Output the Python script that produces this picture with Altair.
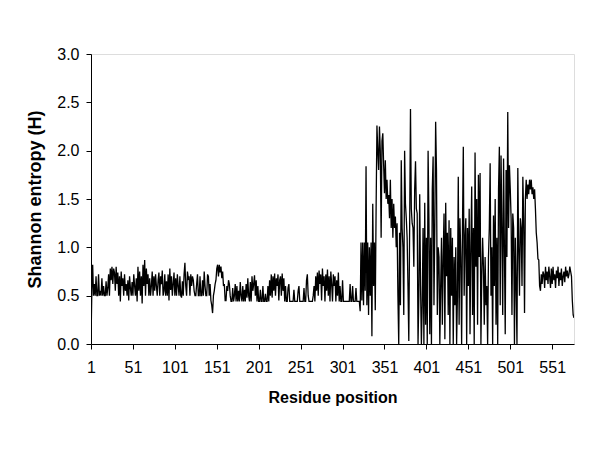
import altair as alt
import pandas as pd

# Shannon entropy per residue (residues 1..577)
seg_001_050 = [0.02, 0.55, 0.82, 0.5, 0.62, 0.5, 0.7, 0.5, 0.5, 0.72,
               0.5, 0.55, 0.5, 0.68, 0.5, 0.6, 0.5, 0.5, 0.65, 0.5,
               0.58, 0.72, 0.5, 0.78, 0.66, 0.8, 0.62, 0.78, 0.74, 0.55,
               0.8, 0.62, 0.74, 0.5, 0.7, 0.44, 0.75, 0.6, 0.68, 0.5,
               0.72, 0.55, 0.62, 0.5, 0.66, 0.45, 0.7, 0.58, 0.5, 0.64]
seg_051_100 = [0.5, 0.72, 0.6, 0.5, 0.68, 0.44, 0.8, 0.55, 0.75, 0.5,
               0.7, 0.42, 0.82, 0.6, 0.87, 0.5, 0.78, 0.62, 0.72, 0.5,
               0.68, 0.5, 0.6, 0.75, 0.5, 0.7, 0.55, 0.72, 0.6, 0.5,
               0.66, 0.74, 0.5, 0.7, 0.62, 0.76, 0.5, 0.55, 0.72, 0.5,
               0.65, 0.5, 0.72, 0.45, 0.78, 0.56, 0.7, 0.5, 0.62, 0.74]
seg_101_150 = [0.5, 0.68, 0.5, 0.72, 0.6, 0.5, 0.7, 0.5, 0.48, 0.65,
               0.5, 0.72, 0.84, 0.6, 0.5, 0.75, 0.68, 0.7, 0.5, 0.72,
               0.6, 0.7, 0.66, 0.55, 0.5, 0.5, 0.62, 0.72, 0.5, 0.5,
               0.7, 0.5, 0.5, 0.66, 0.5, 0.75, 0.6, 0.5, 0.5, 0.72,
               0.7, 0.5, 0.62, 0.45, 0.4, 0.32, 0.5, 0.55, 0.62, 0.66]
seg_151_200 = [0.78, 0.82, 0.7, 0.82, 0.74, 0.8, 0.68, 0.75, 0.6, 0.62,
               0.45, 0.45, 0.6, 0.55, 0.66, 0.62, 0.5, 0.44, 0.44, 0.58,
               0.44, 0.5, 0.62, 0.44, 0.6, 0.44, 0.55, 0.44, 0.64, 0.5,
               0.44, 0.6, 0.44, 0.56, 0.44, 0.62, 0.48, 0.68, 0.5, 0.44,
               0.64, 0.44, 0.7, 0.55, 0.62, 0.71, 0.5, 0.66, 0.44, 0.6]
seg_201_250 = [0.44, 0.44, 0.56, 0.44, 0.44, 0.6, 0.44, 0.44, 0.52, 0.44,
               0.44, 0.6, 0.44, 0.66, 0.5, 0.72, 0.48, 0.7, 0.55, 0.73,
               0.5, 0.68, 0.6, 0.72, 0.45, 0.66, 0.7, 0.5, 0.73, 0.55,
               0.68, 0.44, 0.6, 0.44, 0.44, 0.58, 0.62, 0.44, 0.44, 0.44,
               0.44, 0.44, 0.56, 0.44, 0.44, 0.44, 0.44, 0.55, 0.6, 0.44]
seg_251_300 = [0.44, 0.44, 0.44, 0.44, 0.58, 0.44, 0.44, 0.66, 0.72, 0.5,
               0.44, 0.44, 0.44, 0.44, 0.44, 0.5, 0.6, 0.44, 0.7, 0.55,
               0.74, 0.5, 0.76, 0.62, 0.72, 0.45, 0.78, 0.6, 0.7, 0.44,
               0.72, 0.55, 0.77, 0.5, 0.7, 0.44, 0.75, 0.62, 0.44, 0.72,
               0.6, 0.7, 0.44, 0.66, 0.5, 0.74, 0.44, 0.6, 0.44, 0.44]
seg_301_350 = [0.66, 0.44, 0.44, 0.44, 0.44, 0.44, 0.44, 0.44, 0.44, 0.62,
               0.44, 0.44, 0.6, 0.44, 0.44, 0.44, 0.58, 0.44, 0.44, 0.44,
               0.44, 0.34, 1.05, 0.45, 1.05, 0.4, 1.05, 0.55, 1.84, 0.4,
               1.05, 0.3, 1.0, 0.5, 1.05, 0.08, 1.45, 0.6, 1.05, 0.35,
               1.4, 2.26, 2.0, 1.8, 2.25, 2.0, 1.1, 2.1, 2.18, 1.85]
seg_351_400 = [1.56, 1.9, 1.5, 1.7, 1.45, 1.54, 1.3, 1.7, 1.2, 1.5,
               1.1, 1.45, 1.2, 1.32, 1.0, 1.25, 0.5, 0.0, 1.15, 0.4,
               1.9, 1.2, 1.0, 0.3, 2.0, 1.45, 1.3, 1.1, 0.6, 0.03,
               1.2, 2.43, 1.4, 1.25, 1.2, 0.8, 1.6, 1.89, 1.4, 1.35,
               0.0, 0.5, 1.55, 0.6, 0.0, 0.4, 1.2, 0.0, 1.46, 0.2]
seg_401_450 = [1.1, 0.0, 2.0, 1.3, 0.1, 1.1, 0.0, 1.6, 1.94, 0.4,
               1.2, 2.3, 1.8, 0.3, 1.0, 0.9, 0.0, 0.6, 1.1, 0.2,
               0.9, 1.35, 0.05, 1.46, 0.7, 1.15, 0.3, 1.28, 0.0, 1.2,
               0.5, 1.1, 0.0, 0.9, 0.4, 1.0, 0.0, 0.5, 1.73, 0.2,
               1.3, 0.9, 0.0, 1.2, 2.04, 0.5, 1.1, 1.3, 0.0, 1.2]
seg_451_500 = [0.6, 1.4, 0.1, 1.0, 1.63, 0.3, 1.2, 0.0, 1.98, 0.8,
               1.5, 0.2, 1.75, 0.9, 1.77, 0.0, 0.7, 1.1, 0.8, 0.2,
               0.9, 0.4, 0.6, 0.0, 0.9, 1.2, 1.87, 0.5, 1.0, 0.0,
               1.33, 0.6, 1.5, 0.2, 1.1, 0.0, 1.6, 2.04, 0.4, 1.95,
               1.2, 0.3, 1.92, 1.0, 0.1, 1.8, 0.9, 2.4, 1.2, 1.85]
seg_501_550 = [1.6, 1.3, 0.3, 1.35, 1.2, 0.0, 1.1, 0.6, 0.0, 1.82,
               1.0, 0.5, 1.3, 1.2, 0.6, 1.73, 1.3, 0.32, 1.5, 1.7,
               1.5, 1.65, 1.55, 1.7, 1.6, 1.7, 1.55, 1.62, 1.5, 1.6,
               1.4, 1.15, 1.05, 0.88, 0.87, 0.6, 0.55, 0.72, 0.62, 0.75,
               0.72, 0.58, 0.8, 0.66, 0.75, 0.62, 0.8, 0.7, 0.58, 0.78]
seg_551_577 = [0.62, 0.8, 0.66, 0.72, 0.58, 0.76, 0.68, 0.8, 0.6, 0.74,
               0.66, 0.78, 0.6, 0.7, 0.75, 0.64, 0.8, 0.7, 0.76, 0.68,
               0.72, 0.8, 0.75, 0.7, 0.45, 0.3, 0.27]

x_ticks = [1, 51, 101, 151, 201, 251, 301, 351, 401, 451, 501, 551]
y_ticks = [0.0, 0.5, 1.0, 1.5, 2.0, 2.5, 3.0]

entropy = (seg_001_050 + seg_051_100 + seg_101_150 + seg_151_200 + seg_201_250 +
           seg_251_300 + seg_301_350 + seg_351_400 + seg_401_450 + seg_451_500 +
           seg_501_550 + seg_551_577)
df = pd.DataFrame({"pos": list(range(1, len(entropy) + 1)), "H": entropy})

FONT = "Liberation Sans"

chart = alt.Chart(df).mark_line(color="black", strokeWidth=1.3, clip=True).encode(
    x=alt.X("pos:Q",
            scale=alt.Scale(domain=[1, 577], nice=False, zero=False),
            axis=alt.Axis(title="Residue position", values=x_ticks, grid=False,
                          domainColor="black", tickColor="black", tickSize=5,
                          labelColor="black", labelFont=FONT, labelFontSize=16,
                          labelPadding=10, labelFlush=False,
                          titleFont=FONT, titleFontSize=16, titleFontWeight="bold",
                          titleColor="black", titlePadding=14)),
    y=alt.Y("H:Q",
            scale=alt.Scale(domain=[0, 3], nice=False),
            axis=alt.Axis(title="Shannon entropy (H)", values=y_ticks, format=".1f",
                          grid=False, domainColor="black", tickColor="black", tickSize=5,
                          labelColor="black", labelFont=FONT, labelFontSize=16,
                          labelPadding=7,
                          titleFont=FONT, titleFontSize=18, titleFontWeight="bold",
                          titleColor="black", titlePadding=12)),
).properties(
    width=483, height=290,
    autosize=alt.AutoSizeParams(type="none"),
    padding={"left": 83, "top": 46, "right": 18, "bottom": 98},
).configure_view(stroke=None).configure(background="white")

chart.save("out.html", embed_options={"renderer": "svg", "actions": False})
